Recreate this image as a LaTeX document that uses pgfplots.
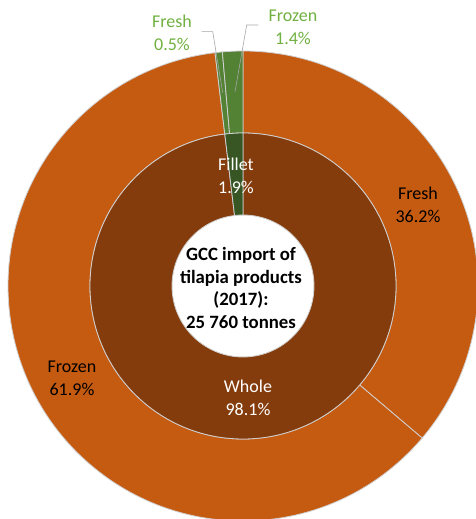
\documentclass[border=0pt]{standalone}
\usepackage{pgfplots}
\usepackage{pgfplotstable}
\pgfplotsset{compat=1.18}
\usepackage{fontspec}
\setmainfont{Carlito}
\definecolor{outerorange}{HTML}{C55A11}
\definecolor{innerbrown}{HTML}{843C0C}
\definecolor{outergreen}{HTML}{548235}
\definecolor{innergreen}{HTML}{375623}
\definecolor{labgreen}{HTML}{70B040}
\definecolor{segline}{HTML}{D0D0D0}
\definecolor{leader}{HTML}{A6A6A6}

% start (cumulative %), share (%), inner radius, outer radius, colour
\pgfplotstableread{
start pct rin rout col
0     36.2 153 235 outerorange
36.2  61.9 153 235 outerorange
98.1  0.5  153 235 outergreen
98.6  1.4  153 235 outergreen
0     98.1 71  153 innerbrown
98.1  1.9  71  153 innergreen
}\segs

\begin{document}
\begin{tikzpicture}
\begin{axis}[
  name=main,
  x=1pt, y=1pt,
  xmin=-243, xmax=233, ymin=-233, ymax=286,
  hide axis, clip=true,
]
\pgfplotstablegetrowsof{\segs}
\pgfmathtruncatemacro\nseg{\pgfplotsretval-1}
\foreach \i in {0,...,\nseg}{
  \pgfplotstablegetelem{\i}{start}\of\segs \let\sS\pgfplotsretval
  \pgfplotstablegetelem{\i}{pct}\of\segs \let\sP\pgfplotsretval
  \pgfplotstablegetelem{\i}{rin}\of\segs \let\sI\pgfplotsretval
  \pgfplotstablegetelem{\i}{rout}\of\segs \let\sO\pgfplotsretval
  \pgfplotstablegetelem{\i}{col}\of\segs \let\sC\pgfplotsretval
  \pgfmathsetmacro\aA{90-3.6*\sS}
  \pgfmathsetmacro\aB{90-3.6*(\sS+\sP)}
  \pgfmathsetmacro\xA{\sO*cos(\aA)}
  \pgfmathsetmacro\yA{\sO*sin(\aA)}
  \pgfmathsetmacro\xB{\sI*cos(\aB)}
  \pgfmathsetmacro\yB{\sI*sin(\aB)}
  \edef\tmp{\noexpand\filldraw[fill=\sC, draw=segline, line width=0.8pt]
    (axis cs:\xA,\yA) arc[start angle=\aA, end angle=\aB, radius=\sO pt]
    -- (axis cs:\xB,\yB) arc[start angle=\aB, end angle=\aA, radius=\sI pt] -- cycle;}
  \tmp
}
% leader lines
\draw[leader, line width=0.6pt] (axis cs:-41.3,254.3) -- (axis cs:-30.3,254.3) -- (axis cs:-20.3,193.3);
\draw[leader, line width=0.6pt] (axis cs:15.3,261) -- (axis cs:3.7,261) -- (axis cs:-8,194.3);
% labels
\tikzset{lab/.style={align=center, font=\fontsize{18}{22.7}\selectfont}}
\node[lab, text=black] at (axis cs:175,81) {Fresh\\36.2\%};
\node[lab, text=black] at (axis cs:-171,-92) {Frozen\\61.9\%};
\node[lab, text=white] at (axis cs:5,-112) {Whole\\98.1\%};
\node[lab, text=white] at (axis cs:-7,110) {Fillet\\1.9\%};
\node[lab, text=labgreen] at (axis cs:-71,253) {Fresh\\0.5\%};
\node[lab, text=labgreen] at (axis cs:50,259) {Frozen\\1.4\%};
\node[align=center, font=\fontsize{18.8}{22.7}\selectfont\bfseries] at (axis cs:-2,-2)
  {GCC import of\\tilapia products\\(2017):\\25 760 tonnes};
\end{axis}
\pgfresetboundingbox
\path (main.south west) rectangle (main.north east);
\end{tikzpicture}
\end{document}
